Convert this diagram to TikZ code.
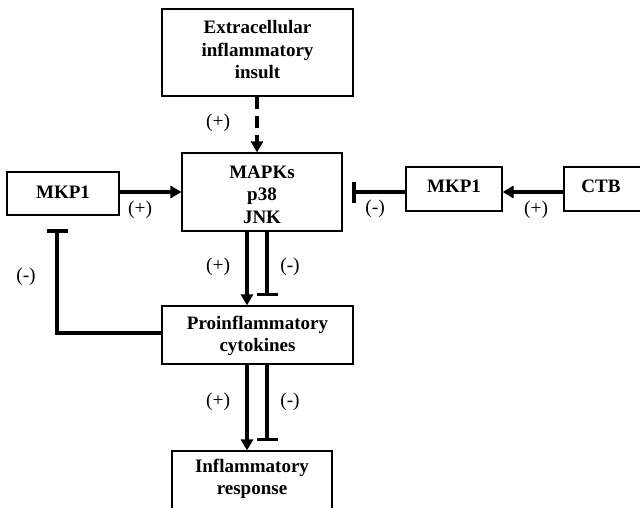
\documentclass[tikz,border=0pt]{standalone}
\usepackage{fontspec}
\setmainfont{Liberation Serif}
\usetikzlibrary{arrows.meta}
\begin{document}
\begin{tikzpicture}[x=1pt,y=-1pt,
  box/.style={draw, line width=1.2pt, inner sep=0pt},
  lbl/.style={font=\bfseries\fontsize{19}{22.5}\selectfont, align=center, inner sep=0pt},
  sgn/.style={font=\fontsize{19.5}{21}\selectfont, inner sep=0pt},
  act/.style={line width=4.5pt, -{Triangle[length=11pt,width=12pt]}},
  inhib/.style={line width=3.5pt, -{Bar[width=21pt,line width=3.5pt]}}]
\useasboundingbox (0,0) rectangle (640,508);
\clip (0,0) rectangle (640,508);
% boxes
\node[box, minimum width=191, minimum height=87] (ext) at (257.5,52.5) {};
\node[lbl] (extT) at (257.5,50) {Extracellular\\inflammatory\\insult};
\node[box, minimum width=160, minimum height=78] (mapk) at (262,192) {};
\node[lbl] (mapkT) at (262,194.5) {MAPKs\\p38\\JNK};
\node[box, minimum width=112, minimum height=43] (mkpL) at (63,193.5) {};
\node[lbl] (mkpLT) at (63,192) {MKP1};
\node[box, minimum width=96, minimum height=44] (mkpR) at (454,189) {};
\node[lbl] (mkpRT) at (454,186) {MKP1};
\node[box, minimum width=90, minimum height=44] (ctb) at (609,189) {};
\node[lbl] (ctbT) at (601,186) {CTB};
\node[box, minimum width=191, minimum height=58] (pro) at (257.5,335) {};
\node[lbl] (proT) at (257.5,336) {Proinflammatory\\cytokines};
\node[box, minimum width=160, minimum height=70] (resp) at (252,486) {};
\node[lbl] (respT) at (252,479) {Inflammatory\\response};
% coordinates
\coordinate (barR) at (352,192);
\coordinate (barL) at (57,229);
\coordinate (corner) at (57,333);
\coordinate (proL) at (162,333);
\coordinate (barM) at (267,296);
\coordinate (barB) at (267,441);
% connectors
\draw[line width=4.5pt, dash pattern=on 12pt off 7pt, -{Triangle[length=11pt,width=12pt]}] (ext.south -| 257,0) -- (mapk.north -| 257,0);
\draw[act] (mkpL.east |- 0,192) -- (mapk.west |- 0,192);
\draw[inhib] (mkpR.west |- 0,192) -- (barR);
\draw[act] (ctb.west |- 0,192) -- (mkpR.east |- 0,192);
\draw[act] (mapk.south -| 247,0) -- (pro.north -| 247,0);
\draw[inhib] (mapk.south -| 267,0) -- (barM);
\draw[inhib] (proL) -- (corner) -- (barL);
\draw[act] (pro.south -| 247,0) -- (resp.north -| 247,0);
\draw[inhib] (pro.south -| 267,0) -- (barB);
% signs
\node[sgn] (s1) at (218,123) {(+)};
\node[sgn] (s2) at (140,210) {(+)};
\node[sgn] (s3) at (375,209) {(-)};
\node[sgn] (s4) at (536,210) {(+)};
\node[sgn] (s5) at (218,267) {(+)};
\node[sgn] (s6) at (290,267) {(-)};
\node[sgn] (s7) at (26,277) {(-)};
\node[sgn] (s8) at (218,402) {(+)};
\node[sgn] (s9) at (290,402) {(-)};
\end{tikzpicture}
\end{document}
